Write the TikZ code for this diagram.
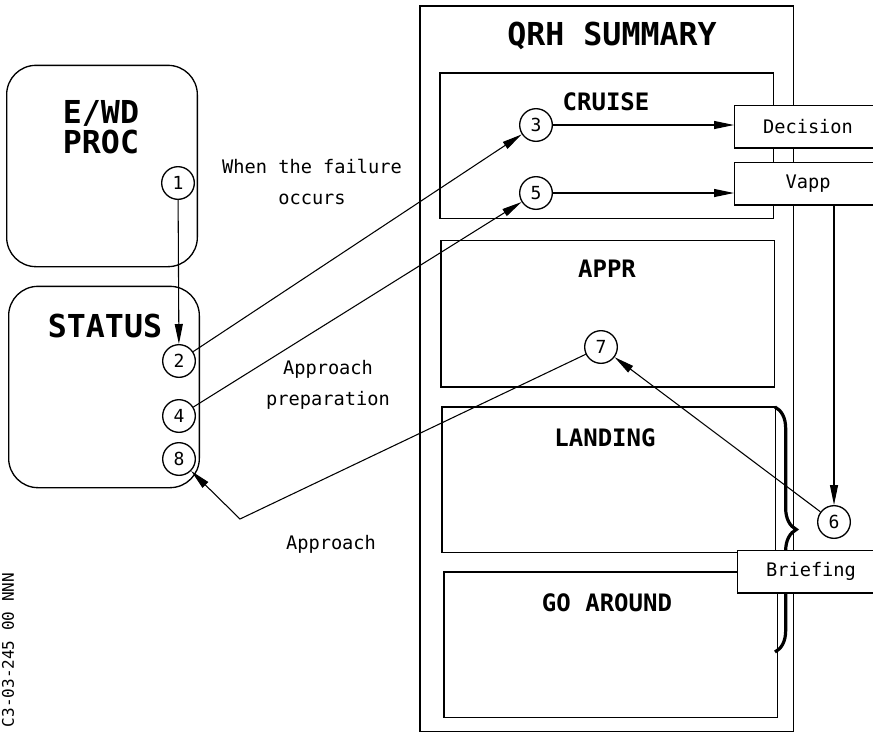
\documentclass[tikz,border=0pt]{standalone}
\usepackage{fontspec}
\setmainfont{DejaVu Sans Mono}
\usetikzlibrary{arrows.meta,decorations.pathreplacing}

\begin{document}
\begin{tikzpicture}[x=0.75pt,y=-0.75pt,line width=1pt,
    title/.style={font=\fontsize{23.7}{22.5}\selectfont\bfseries, align=center},
    phase/.style={font=\fontsize{18}{20}\selectfont\bfseries},
    note/.style={font=\fontsize{14}{23}\selectfont, align=center},
    arr/.style={line width=0.8pt, -{Triangle[length=15pt,width=6pt]}}]

        \useasboundingbox (0,0) rectangle (873,732);

        \begin{scope}[every node/.style={draw, rounded corners=22pt, minimum width=143pt, minimum height=151pt}]
          \node (ewd)    at (102,166) {};
          \node (status) at (104,387) {};
        \end{scope}

        \node[draw, minimum width=280pt, minimum height=544pt] (qrh) at (606.5,368.5) {};

        \begin{scope}[every node/.style={draw, minimum width=250pt, minimum height=109pt}]
          \node (cruise)   at (606.5,145.5) {};
          \node[minimum height=110pt] (appr) at (607.5,313.5) {};
          \node (landing)  at (608.5,479.5) {};
          \node (goaround) at (610.5,644.5) {};
        \end{scope}

        \draw[line width=2.4pt, decoration={brace,amplitude=16pt}, decorate] (775,407) -- (775,652);

        \begin{scope}[every node/.style={draw, fill=white, minimum width=110pt, minimum height=32pt, note}]
          \node (decision) at (808,126.5) {Decision};
          \node (vapp)     at (808,183.5) {Vapp};
          \node (briefing) at (811,571.5) {Briefing};
        \end{scope}

        \node[title] (qrhtitle)    at (612,36)  {QRH SUMMARY};
        \node[title] (ewdtitle)    at (101,127) {E/WD\\PROC};
        \node[title] (statustitle) at (105,326) {STATUS};

        \node[phase] (cruisetitle)   at (606,102) {CRUISE};
        \node[phase] (apprtitle)     at (607,269) {APPR};
        \node[phase] (landingtitle)  at (605,438) {LANDING};
        \node[phase] (goaroundtitle) at (607,603) {GO AROUND};

        \node[note] (failure)  at (312,182) {When the failure\\occurs};
        \node[note] (prep)     at (328,385) {Approach\\preparation};
        \node[note] (approach) at (331,544) {Approach};
        \node[font=\fontsize{12}{12}\selectfont, rotate=90] (ref) at (8,650) {C3-03-245 00 NNN};

        \begin{scope}[every node/.style={circle, draw, fill=white, inner sep=0pt, minimum size=24.5pt, font=\fontsize{13.5}{14}\selectfont}]
          \node (1) at (178,183) {1};
          \node (2) at (179,361) {2};
          \node (3) at (536,125) {3};
          \node (4) at (179,416) {4};
          \node (5) at (536,193) {5};
          \node (6) at (834,522) {6};
          \node (7) at (601,347) {7};
          \node (8) at (179,459) {8};
        \end{scope}

        \coordinate (turn) at (240,519);

        \draw[arr] (1) -- (2);
        \draw[arr] (2) -- (3);
        \draw[arr] (4) -- (5);
        \draw[arr] (3) -- (3 -| decision.west);
        \draw[arr] (5) -- (5 -| vapp.west);
        \draw[arr] (6 |- vapp.south) -- (6);
        \draw[arr] (6) -- (7);
        \draw[arr] (7) -- (turn) -- (8);

      \end{tikzpicture}
\end{document}
